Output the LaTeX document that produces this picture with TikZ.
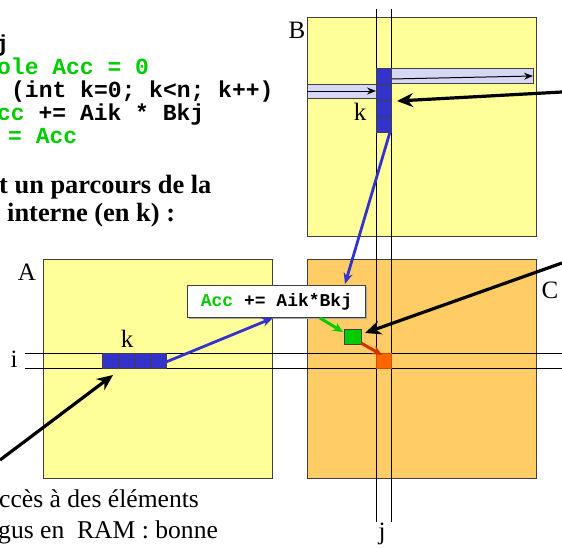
\documentclass[tikz,border=0pt]{standalone}
\usepackage{fontspec}
\setmainfont{Liberation Serif}
\setmonofont{Liberation Mono}
\usetikzlibrary{arrows.meta}
\definecolor{matY}{HTML}{FFFF99}
\definecolor{matC}{HTML}{FFCC66}
\definecolor{cellB}{HTML}{3333CC}
\definecolor{barL}{HTML}{D6D6F5}
\definecolor{accG}{HTML}{00CC00}
\definecolor{resO}{HTML}{FF6600}
\definecolor{brownA}{HTML}{CC3300}
\definecolor{edge}{HTML}{404040}
\tikzset{
  matrixbox/.style={draw=edge, line width=1pt, anchor=north west, inner sep=0pt, minimum width=229pt, minimum height=219pt},
  cellbox/.style={draw=edge, fill=cellB, line width=0.8pt, anchor=north west, inner sep=0pt},
  barbox/.style={draw=edge, fill=barL, line width=0.8pt, anchor=north west, inner sep=0pt},
  guide/.style={draw=black, line width=0.9pt},
  thinarrow/.style={draw=black, line width=1pt, -{Stealth[length=9pt,width=7pt]}},
  bigarrow/.style={draw=black, line width=3.2pt, -{Stealth[length=16pt,width=14pt]}},
  bluearrow/.style={draw=cellB, line width=2.8pt, -{Stealth[length=11pt,width=9pt]}},
  code/.style={font=\fontsize{23}{23}\selectfont\ttfamily\bfseries, anchor=base west, inner sep=0pt},
  lbl/.style={font=\fontsize{25}{25}\selectfont, inner sep=0pt},
  prose/.style={font=\fontsize{25.6}{26}\selectfont, anchor=base west, inner sep=0pt},
  boldprose/.style={font=\fontsize{26.4}{27}\selectfont\bfseries, anchor=base west, inner sep=0pt},
}
\begin{document}
\begin{tikzpicture}[x=1pt, y=-1pt]
\useasboundingbox (0,0) rectangle (562,547);
% matrices
\node[matrixbox, fill=matY] (B) at (307,17) {};
\node[matrixbox, fill=matY] (A) at (43,259) {};
\node[matrixbox, fill=matC] (C) at (307,259) {};
% labels
\node[lbl] (labB) at (297,30) {B};
\node[lbl] (labA) at (27,272) {A};
\node[lbl] (labC) at (550,290) {C};
\node[lbl] (kB) at (360,112) {k};
\node[lbl] (kA) at (127,339) {k};
\node[lbl] (labi) at (14,359) {i};
\node[lbl] (labj) at (382,534) {j};
% guide lines
\coordinate (j1t) at (376,9); \coordinate (j1b) at (376,522);
\coordinate (j2t) at (391,9); \coordinate (j2b) at (391,522);
\coordinate (i1l) at (25,353); \coordinate (i1r) at (562,353);
\coordinate (i2l) at (25,368); \coordinate (i2r) at (562,368);
\draw[guide] (j1t) -- (j1b);
\draw[guide] (j2t) -- (j2b);
\draw[guide] (i1l) -- (i1r);
\draw[guide] (i2l) -- (i2r);
% light bars in B
\node[barbox, minimum width=142pt, minimum height=15pt] (barT) at (391,68) {};
\node[barbox, minimum width=69pt, minimum height=14pt] (barL) at (307,84) {};
\coordinate (barLs) at (307,91); \coordinate (barLe) at (376,91);
\coordinate (barTs) at (391,79); \coordinate (barTe) at (533,76);
\draw[thinarrow] (barLs) -- (barLe);
\draw[thinarrow] (barTs) -- (barTe);
% column cells in B
\foreach \n/\y in {1/68,2/84,3/100,4/116}
  \node[cellbox, minimum width=15pt, minimum height=16pt] (bc\n) at (376,\y) {};
% row cells in A
\foreach \n/\x in {1/102,2/118,3/134,4/150}
  \node[cellbox, minimum width=16pt, minimum height=15pt] (ac\n) at (\x,353) {};
% accumulator and result
\node[draw=edge, fill=accG, line width=1pt, anchor=north west, inner sep=0pt, minimum width=17pt, minimum height=15pt] (acc) at (344,329) {};
\node[fill=resO, draw=resO!80!black, line width=0.5pt, anchor=north west, inner sep=0pt, minimum width=15pt, minimum height=15pt] (res) at (376,353) {};
% formula box
\fill[black!35] (189,287) rectangle (367,319);
\node[draw=edge, fill=white, line width=1pt, anchor=north west, inner sep=0pt, minimum width=178pt, minimum height=32pt,
      font=\fontsize{18}{18}\selectfont\ttfamily\bfseries] (box) at (187,285) {\textcolor{accG}{Acc} += Aik*Bkj};
% blue arrows
\coordinate (bBot) at (390,132);
\coordinate (boxTop) at (345,284);
\coordinate (aEnd) at (166,362);
\coordinate (boxLeft) at (273,318);
\draw[bluearrow] (bBot) -- (boxTop);
\draw[bluearrow] (aEnd) -- (boxLeft);
% green and brown arrows
\coordinate (boxBot) at (320,318);
\coordinate (accIn) at (343,332);
\coordinate (accOut) at (361,343);
\coordinate (resIn) at (382,355);
\draw[draw=accG, line width=3pt, -{Stealth[length=10pt,width=9pt]}] (boxBot) -- (accIn);
\draw[draw=brownA, line width=3pt, -{Stealth[length=10pt,width=9pt]}] (accOut) -- (resIn);
% big black arrows
\coordinate (s1) at (562,92); \coordinate (e1) at (397,101);
\coordinate (s2) at (0,460); \coordinate (e2) at (113,375);
\coordinate (s3) at (562,263); \coordinate (e3) at (365,333);
\draw[bigarrow] (s1) -- (e1);
\draw[bigarrow] (s2) -- (e2);
\draw[bigarrow] (s3) -- (e3);
% code text
\node[code] (c1) at (-5,51) {j};
\node[code, text=accG] (c2) at (-3,74) {ole Acc = 0};
\node[code] (c3) at (11,97) {(int k=0; k<n; k++)};
\node[code] (c4) at (-3,120) {\textcolor{accG}{cc} += Aik * Bkj};
\node[code, text=accG] (c5) at (8,143) {= Acc};
% prose
\node[boldprose] (p1) at (-1,193) {t un parcours de la};
\node[boldprose] (p2) at (7,221) {interne (en k) :};
\node[prose] (p3) at (-1,507) {ccès à des éléments};
\node[prose] (p4) at (-2,538) {gus en\ \ RAM : bonne};
\end{tikzpicture}
\end{document}
